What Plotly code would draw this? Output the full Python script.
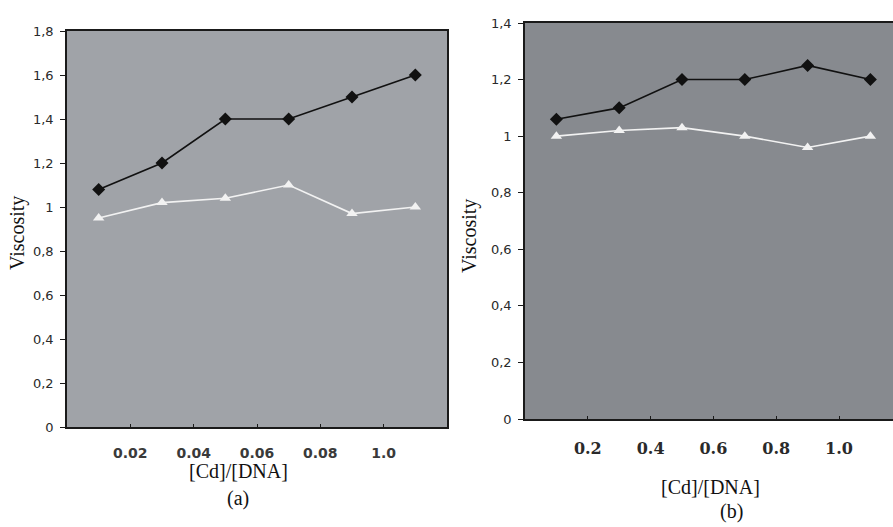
import numpy as np
import plotly.graph_objects as go

# ---- data ----
ratio_labels_a = ["0.02", "0.04", "0.06", "0.08", "1.0"]
ratio_labels_b = ["0.2", "0.4", "0.6", "0.8", "1.0"]
visc_a_black = [1.08, 1.20, 1.40, 1.40, 1.50, 1.60]
visc_a_white = [0.95, 1.02, 1.04, 1.10, 0.97, 1.00]
visc_b_black = [1.06, 1.10, 1.20, 1.20, 1.25, 1.20]
visc_b_white = [1.00, 1.02, 1.03, 1.00, 0.96, 1.00]
yticks_a = [0, 0.2, 0.4, 0.6, 0.8, 1.0, 1.2, 1.4, 1.6, 1.8]
yticks_b = [0, 0.2, 0.4, 0.6, 0.8, 1.0, 1.2, 1.4]


def comma(v):
    s = f"{v:.1f}".replace(".", ",")
    if s.endswith(",0"):
        s = s[:-2]
    return s


xa = np.arange(len(visc_a_black)) + 0.5
xb = np.arange(len(visc_b_black)) + 0.5
tick_pos_a = np.arange(1, len(ratio_labels_a) + 1)
tick_pos_b = np.arange(1, len(ratio_labels_b) + 1)

BLACK = "#111111"
WHITE = "#f2f2f2"

fig = go.Figure()

def add_pair(x, yb, yw, xa_name, ya_name):
    fig.add_trace(go.Scatter(x=x, y=yb, mode="lines+markers", xaxis=xa_name, yaxis=ya_name,
                             line=dict(color=BLACK, width=1.6),
                             marker=dict(symbol="diamond", size=10, color=BLACK),
                             showlegend=False, hoverinfo="skip"))
    fig.add_trace(go.Scatter(x=x, y=yw, mode="lines+markers", xaxis=xa_name, yaxis=ya_name,
                             line=dict(color=WHITE, width=1.6),
                             marker=dict(symbol="triangle-up", size=10, color=WHITE),
                             showlegend=False, hoverinfo="skip"))

add_pair(xa, visc_a_black, visc_a_white, "x", "y")
add_pair(xb, visc_b_black, visc_b_white, "x2", "y2")

axis_line = dict(showline=True, linecolor="#1a1a1a", linewidth=1.6, showgrid=False,
                 zeroline=False, automargin=False)
ytickfont = dict(family="DejaVu Sans", size=13, color="#2a2a2a")

fig.update_layout(
    width=893, height=527, autosize=False,
    margin=dict(l=0, r=0, t=0, b=0, pad=0, autoexpand=False),
    paper_bgcolor="white",
    plot_bgcolor="#a0a3a8",
    xaxis=dict(domain=[67/893, 447/893], range=[0, 6], anchor="y",
               tickvals=tick_pos_a, ticktext=ratio_labels_a,
               ticks="inside", ticklen=3, tickcolor="#1a1a1a",
               tickfont=dict(family="DejaVu Sans", size=14, color="#3a3a3a", weight="bold"),
               ticklabelstandoff=12, mirror=True, **axis_line),
    yaxis=dict(domain=[1 - 427/527, 1 - 31/527], range=[0, 1.8], anchor="x",
               tickvals=yticks_a, ticktext=[comma(v) for v in yticks_a],
               ticks="outside", ticklen=5, tickcolor="#1a1a1a",
               tickfont=ytickfont, ticklabelstandoff=4, mirror=True, **axis_line),
    xaxis2=dict(domain=[525/893, 1.0], range=[0, 368/62.8], anchor="y2",
                tickvals=tick_pos_b, ticktext=ratio_labels_b,
                ticks="inside", ticklen=3, tickcolor="#1a1a1a",
                tickfont=dict(family="DejaVu Serif", size=16, color="#2a2a2a", weight="bold"),
                ticklabelstandoff=14, mirror=True, **axis_line),
    yaxis2=dict(domain=[1 - 419/527, 1 - 23/527], range=[0, 1.4], anchor="x2",
                tickvals=yticks_b, ticktext=[comma(v) for v in yticks_b],
                ticks="outside", ticklen=5, tickcolor="#1a1a1a",
                tickfont=ytickfont, ticklabelstandoff=4, **axis_line),
)

# darker background for panel (b)
fig.add_shape(type="rect", xref="x2 domain", yref="y2 domain", x0=0, x1=1, y0=0, y1=1,
              fillcolor="#878a8f", line=dict(width=0), layer="below")

serif = dict(family="Liberation Serif", size=20, color="#111111")
annots = [
    ("[Cd]/[DNA]", 238, 471, 0),
    ("(a)", 238, 498, 0),
    ("[Cd]/[DNA]", 710, 487, 0),
    ("(b)", 731, 511, 0),
    ("Viscosity", 17, 233, -90),
    ("Viscosity", 470, 236, -90),
]
for txt, px, py, ang in annots:
    fig.add_annotation(text=txt, x=px/893, y=1 - py/527, xref="paper", yref="paper",
                       showarrow=False, textangle=ang, font=serif,
                       xanchor="center", yanchor="middle")

fig.write_html("out.html")
